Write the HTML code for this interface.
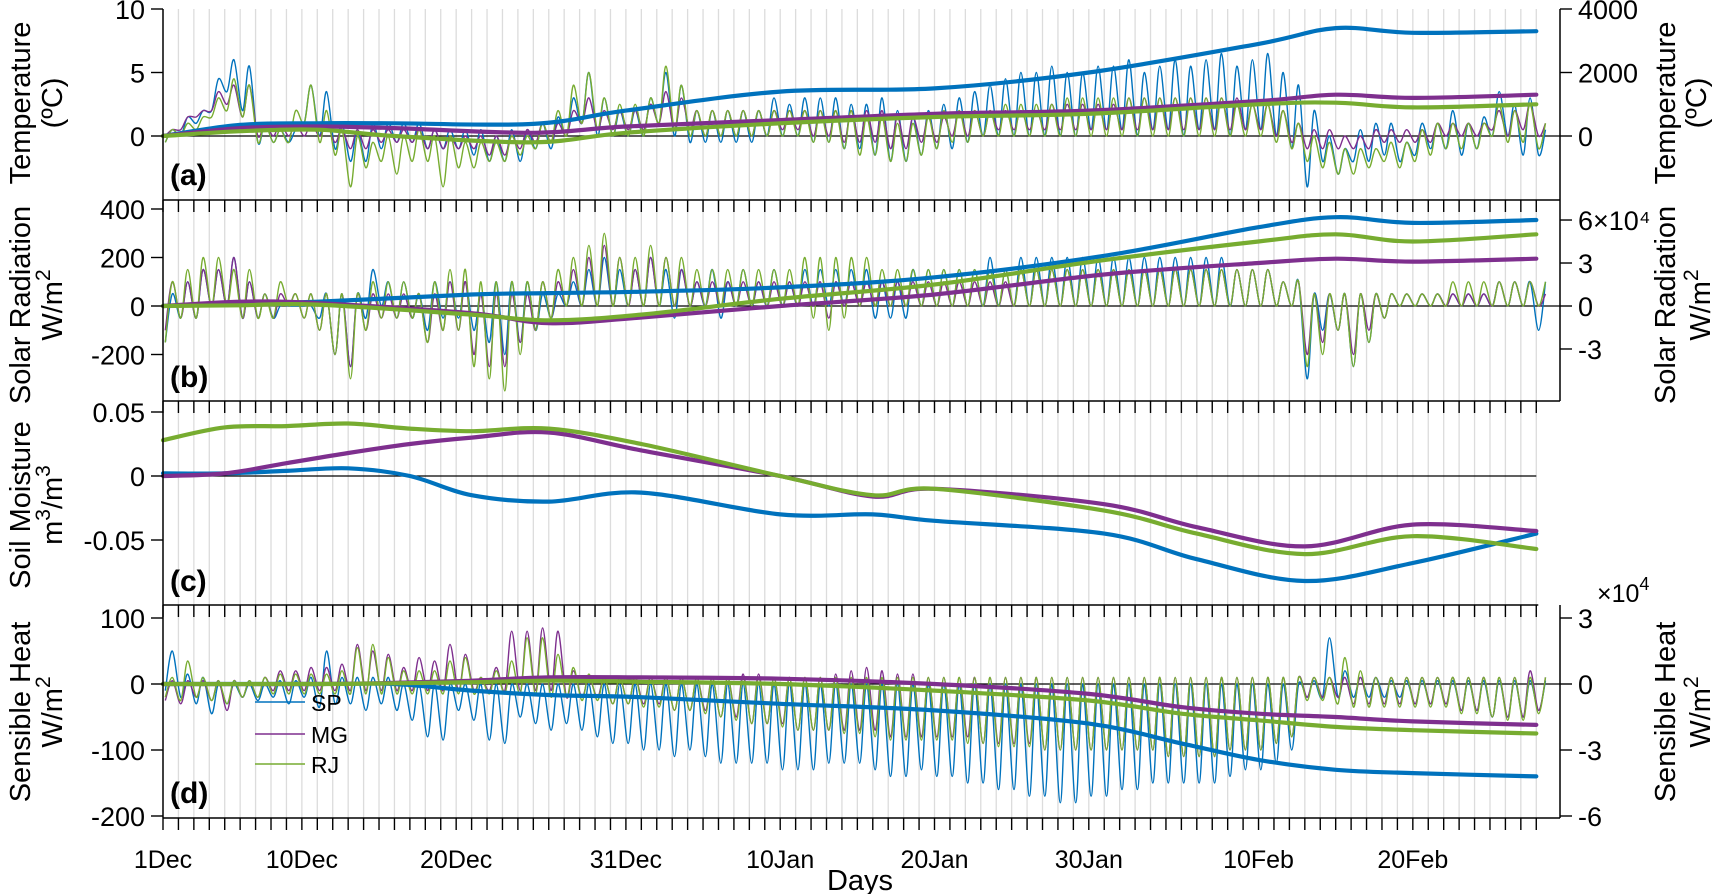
<!DOCTYPE html>
<html><head><meta charset="utf-8">
<style>
html,body{margin:0;padding:0;background:#fff;}
svg{display:block;font-family:"Liberation Sans",Arial,sans-serif;}
</style></head>
<body>
<svg id="chart" width="1725" height="894" viewBox="0 0 1725 894" xmlns="http://www.w3.org/2000/svg" style="position:absolute;left:0;top:0">
<g id="grid"></g>
<g id="series"></g>
<g id="axes"></g>
<g>
  <line x1="255" y1="702" x2="305" y2="702" stroke="#0072BD" stroke-width="1.5"/>
  <text x="311" y="711" font-size="23">SP</text>
  <line x1="255" y1="734" x2="305" y2="734" stroke="#7E2F8E" stroke-width="1.5"/>
  <text x="311" y="743" font-size="23">MG</text>
  <line x1="255" y1="764" x2="305" y2="764" stroke="#77AC30" stroke-width="1.5"/>
  <text x="311" y="773" font-size="23">RJ</text>
</g>
</svg>
<script>
// ---------- data ----------
const seriesNames = ["SP","MG","RJ"];
const seriesColors = ["#0072BD","#7E2F8E","#77AC30"];
const dateLabels = ["1Dec","10Dec","20Dec","31Dec","10Jan","20Jan","30Jan","10Feb","20Feb"];
const dateLabelDays = [0,9,19,30,40,50,60,71,81];
const numDays = 90;

// Panel a: temperature (daily high / low, degC)
const tempSPhi=[0.5,1.5,2,4.5,6,5.5,1,0.5,0.5,4, 3.5,1,0.5,1,1,1,1,0.5,0.5,0.5, 0.5,0,0.5,0.5,1,1.5,3,5,3,2,2, 3,5,4,2,2,2,2,2,3,2.5, 3,3,3,2.5,2.5,3,2,1.5,2,2.5, 3,3.5,4,4.5,5,5,5.5,5,5,5.5,5.5, 6,5,5.5,6,5.5,6,6.5,5.5,6,6.5, 5,4,2,0,-1,0.5,1,1,-0.5,1, 1,2,1,1.5,3.5,2.5,3,0.5];
const tempSPlo=[-0.5,0,1,2,3.5,2,-0.5,-0.5,-0.5,1, 0,-1,-2,-2,-1,-0.5,-0.5,-1,-1,-1, -1.5,-2,-2,-2,-1,-1,0,1,0,0,0, 0,1,0,-0.5,-0.5,-0.5,-0.5,-0.5,0,0, 0,-0.5,-0.5,-1,-1,-1.5,-2,-2,-1.5,-1, -1,-0.5,0,0,0,0,0,0,0,0.5,0.5, 0.5,0,0.5,0.5,0,0.5,0.5,0,0.5,0.5, 0,-1,-4,-2,-3,-2,-2,-1.5,-2,-1.5, -1,-1,-1.5,-1,0,0,-1.5,-1.5];
const tempMGhi=[0.5,1.5,2,3.5,4,4,1,1,1,1, 1,0.5,0.5,0.5,0.5,0.5,0.5,0.5,0,0, 0,0,0,0.5,1,1,2,3,2,2,2, 2.5,3.5,3,2,2,2,2,2,2,2, 2,2,2,2,2,2,1.5,1.5,1.5,1.5, 2,2,2,2,2,2,2.5,2.5,2.5,2.5,2.5, 3,3,3,3,3,3,3,3,2.5,2.5, 2,1,0.5,0.5,0,0,0.5,0.5,0.5,0.5, 1,1,1,1,2,2,2.5,1];
const tempMGlo=[0,0.5,1.5,2,2.5,1.5,0,0,0,0, 0,-0.5,-1,-1,-0.5,-0.5,-0.5,-1,-1,-1, -1,-1.5,-1.5,-1,-0.5,-0.5,0,1,0.5,0.5,0.5, 0.5,1,0.5,0.5,0,0,0,0,0,0.5, 0.5,0,0,-0.5,-0.5,-0.5,-1,-1,-0.5,-0.5, 0,0,0,0.5,0.5,0.5,0.5,0.5,0.5,0.5,0.5, 0.5,0.5,0.5,0.5,0.5,0.5,0.5,0.5,0.5,0.5, 0,-0.5,-1,-1,-1,-1,-1,-0.5,-0.5,-0.5, -0.5,0,0,0,0.5,0,0.5,0];
const tempRJhi=[0.5,1,1.5,3,4.5,4,1,0.5,2,4, 2,0.5,0,-0.5,0,0,0.5,0,0,-0.5, -0.5,-0.5,0,0,1,2,4,5,3,2.5,2.5, 3,5.5,4,2,2,2,2,2,2,2, 2,2,2,2,1.5,1.5,1,1,1.5,2, 2,2,2,2.5,2.5,2.5,2.5,3,3,3,3, 3,3,3,3,3,3,3,2.5,2.5,2.5, 2,1,0,-0.5,-1,-1,-1,-0.5,-0.5,0.5, 1,1,1,1,2.5,2,2.5,1];
const tempRJlo=[-0.5,0,0.5,1.5,2,1.5,-0.5,-0.5,-0.5,1, -0.5,-1.5,-4,-2.5,-2,-3,-2,-2,-4,-2.5, -2.5,-2,-2,-1.5,-1,-0.5,0,1,0.5,0,0, 0,1,0.5,0,0,0,0,0,0,0, 0,-0.5,-0.5,-1,-1.5,-1.5,-2,-2,-1.5,-1, -0.5,-0.5,0,0,0,0,0,0,0,0,0, 0,0,0,0,0,0,0,0,0,0, -0.5,-1,-2,-2.5,-3,-3,-2.5,-2,-2.5,-2, -1.5,-1,-1,-1,0,-0.5,-0.5,-1];
// cumulative temperature (right axis)
const cumTempDays=[0,5,10,15,24,30,40,50,60,71,76,81,89];
const cumTempSP=[0,350,400,400,380,800,1400,1500,2000,2900,3400,3250,3300];
const cumTempMG=[0,250,300,250,100,300,500,700,800,1100,1300,1200,1300];
const cumTempRJ=[0,150,200,0,-200,100,400,600,700,1000,1050,900,1000];

// Panel b: solar radiation (W/m2)
const solSPhi=[50,100,150,150,200,100,50,0,0,0, 50,50,50,150,100,100,50,100,100,100, 50,100,100,100,50,50,100,150,200,150,150, 200,150,150,100,150,100,150,100,150,100, 150,150,150,150,150,100,100,150,150,150, 150,150,200,150,200,200,200,200,200,200,200, 200,200,200,200,200,200,200,150,150,150, 100,100,50,50,50,50,50,50,50,50, 50,50,50,50,100,100,100,100];
const solSPlo=[-150,-50,-50,0,0,-50,-50,-50,0,0, -50,-200,-250,-50,0,-50,-50,-100,-50,-50, -100,-150,-200,-150,-100,-50,0,0,0,0,0, 0,0,-50,0,0,-50,0,0,0,0, 0,0,0,0,0,-50,-50,-50,0,0, 0,0,0,0,0,0,0,0,0,0,0, 0,0,0,0,0,0,0,0,0,0, 0,0,-300,-100,-100,-250,-150,-50,0,0, 0,0,0,0,0,0,0,-100];
const solMGhi=[100,100,150,150,200,100,50,50,50,50, 50,50,50,50,50,50,50,50,100,100, 50,50,50,50,100,100,150,200,250,200,150, 200,200,150,100,100,100,100,100,100,100, 100,100,100,100,100,100,100,100,100,100, 100,100,100,100,150,150,150,150,150,150,150, 150,150,150,150,150,150,150,150,150,150, 100,100,50,50,50,50,50,50,50,50, 50,50,50,50,100,100,100,50];
const solMGlo=[-100,-50,-50,0,0,-50,-50,-50,0,-50, -100,-200,-250,-100,-50,-50,-50,-150,-100,-100, -200,-250,-250,-150,-100,-50,0,0,0,0,0, 0,0,0,0,0,0,0,0,0,0, 0,0,-50,0,0,0,0,0,0,0, 0,0,0,0,0,0,0,0,0,0,0, 0,0,0,0,0,0,0,0,0,0, 0,0,-200,-150,-100,-200,-100,-50,0,0, 0,0,0,0,0,0,0,0];
const solRJhi=[100,150,200,200,150,150,50,100,50,50, 50,50,50,100,100,100,50,100,150,150, 100,100,100,100,100,150,200,250,300,200,200, 250,200,200,150,150,150,150,150,150,150, 200,200,200,200,200,150,150,150,150,150, 150,150,150,150,150,150,150,150,150,150,150, 150,150,150,150,150,150,150,150,150,150, 100,100,50,50,50,50,50,50,50,50, 50,100,100,100,100,100,100,100];
const solRJlo=[-150,-50,-50,0,0,-50,-50,-50,0,-50, -100,-200,-300,-100,-50,-50,-50,-150,-100,-100, -250,-300,-350,-200,-100,-50,0,0,0,0,0, 0,0,0,0,0,0,0,0,0,0, 0,-50,-100,-50,0,0,0,0,0,0, 0,0,0,0,0,0,0,0,0,0,0, 0,0,0,0,0,0,0,0,0,0, 0,0,-250,-200,-100,-250,-150,-50,0,0, 0,0,0,0,0,0,0,0];
const cumSolDays=[0,5,10,20,25,31,40,50,61,71,76,81,89];
const cumSolSP=[0,2000,3000,8000,9000,10000,13000,20000,35000,55000,62000,58000,60000];
const cumSolMG=[0,3000,2000,-5000,-12000,-8000,0,8000,22000,30000,33000,31000,33000];
const cumSolRJ=[0,500,1000,-6000,-10000,-6000,5000,15000,32000,45000,50000,45000,50000];

// Panel c: soil moisture (m3/m3)
const soilDays=[0,4,8,12,16,20,25,31,40,46,50,61,67,74,81,89];
const soilSP=[0.002,0.002,0.004,0.006,0,-0.015,-0.02,-0.013,-0.03,-0.03,-0.035,-0.045,-0.065,-0.082,-0.068,-0.045];
const soilMG=[0,0.002,0.01,0.018,0.025,0.03,0.034,0.02,0,-0.016,-0.01,-0.022,-0.04,-0.055,-0.038,-0.043];
const soilRJ=[0.028,0.038,0.039,0.041,0.037,0.035,0.037,0.025,0,-0.015,-0.01,-0.027,-0.045,-0.061,-0.047,-0.057];

// Panel d: sensible heat (W/m2)
const shSPhi=[50,15,10,0,0,0,0,5,5,10, 50,10,10,10,10,0,0,0,0,0, 0,0,0,0,0,0,0,0,0,0,0, 0,0,0,0,0,0,0,0,0,0, 0,0,0,0,0,0,0,0,0,0, 0,0,0,0,0,0,0,0,0,0,0, 0,0,0,0,0,0,0,0,0,0, 0,0,5,70,20,10,10,5,5,5, 5,5,5,5,5,5,5,5];
const shSPlo=[-10,-20,-30,-45,-30,-20,-25,-20,-30,-20, -35,-30,-30,-40,-30,-40,-55,-80,-85,-40, -55,-85,-90,-50,-60,-70,-60,-70,-80,-90,-90, -100,-100,-110,-100,-110,-120,-120,-120,-120,-130, -130,-130,-120,-120,-120,-130,-140,-140,-130,-140, -140,-150,-150,-160,-160,-170,-170,-180,-180,-170,-170, -160,-160,-150,-150,-150,-150,-150,-140,-130,-130, -120,-100,-20,-20,-20,-20,-20,-20,-20,-30, -30,-30,-40,-40,-50,-50,-50,-40];
const shMGhi=[5,5,5,5,5,5,10,20,20,25, 25,30,60,50,45,25,40,35,60,45, 10,25,80,80,85,80,20,10,10,10,10, 10,10,10,10,10,10,15,15,10,10, 10,10,15,20,25,20,15,15,10,10, 10,10,10,10,10,10,10,10,10,10,10, 10,10,10,10,10,10,10,10,10,10, 10,10,10,10,10,10,10,10,10,10, 10,10,10,10,10,10,20,10];
const shMGlo=[-25,-30,-20,-25,-40,-20,-20,-10,-10,-10, -10,-10,-10,-10,-10,-10,-10,-10,-10,-10, -10,-10,-10,-10,-10,-10,-20,-20,-20,-30,-30, -30,-30,-40,-40,-40,-50,-50,-60,-60,-60, -70,-70,-70,-70,-70,-70,-80,-80,-80,-80, -80,-80,-90,-90,-90,-90,-100,-100,-100,-100,-100, -100,-100,-100,-110,-110,-110,-110,-100,-100,-100, -90,-80,-20,-20,-20,-30,-30,-30,-30,-30, -30,-30,-40,-40,-50,-50,-50,-40];
const shRJhi=[10,35,10,5,5,5,10,15,15,15, 15,20,55,60,40,20,20,20,35,40, 10,20,35,70,70,45,25,15,10,10,10, 10,10,10,10,10,10,10,10,10,10, 10,10,10,10,10,10,10,10,10,10, 10,10,10,10,10,10,10,10,10,10,10, 10,10,10,10,10,10,10,10,10,10, 10,10,10,10,40,20,10,10,10,10, 10,10,10,10,10,10,10,10];
const shRJlo=[-20,-25,-20,-25,-30,-20,-20,-15,-15,-15, -15,-15,-15,-15,-15,-15,-15,-15,-15,-15, -15,-15,-15,-15,-15,-20,-20,-25,-25,-30,-30, -35,-35,-40,-40,-45,-50,-55,-60,-60,-65, -70,-70,-70,-75,-75,-80,-85,-85,-85,-85, -85,-90,-90,-95,-95,-95,-100,-100,-100,-100,-100, -100,-100,-100,-110,-110,-110,-110,-100,-100,-100, -90,-80,-25,-25,-30,-35,-35,-35,-35,-35, -35,-35,-45,-45,-50,-55,-55,-45];
const cumShDays=[0,10,15,20,25,31,40,50,60,66,71,76,81,89];
const cumShSP=[0,0,0,-3000,-5000,-6000,-9000,-12000,-18000,-27000,-34500,-39000,-40500,-42000];
const cumShMG=[0,0,500,1500,3000,3000,2400,0,-4500,-10500,-13500,-15000,-17000,-18600];
const cumShRJ=[0,0,300,800,1500,1000,0,-3000,-7500,-13500,-16500,-19500,-21000,-22500];

// ---------- scales ----------
const X0=163, XPD=15.43;
const xS=d=>X0+d*XPD;
const yA=v=>136-v*12.7, yAR=v=>yA(v/400);
const yB=v=>306-v*0.2425, yBR=v=>306-v*0.001433;
const yC=v=>476-v*1280;
const yD=v=>684-v*0.66, yDR=v=>yD(v/300);
const panels=[{top:9,bot:200,right:true},{top:200,bot:401,right:true},{top:401,bot:605,right:false},{top:605,bot:818,right:true}];
const XR=1560, XEND=xS(89);
const NS="http://www.w3.org/2000/svg";
function mk(tag,attrs,parent){const e=document.createElementNS(NS,tag);for(const k in attrs)e.setAttribute(k,attrs[k]);parent.appendChild(e);return e;}
function smooth(pts){let d="M"+pts[0][0].toFixed(1)+","+pts[0][1].toFixed(1);
 for(let i=0;i<pts.length-1;i++){const p0=pts[i-1]||pts[i],p1=pts[i],p2=pts[i+1],p3=pts[i+2]||p2;
  const c1=[p1[0]+(p2[0]-p0[0])/6,p1[1]+(p2[1]-p0[1])/6],c2=[p2[0]-(p3[0]-p1[0])/6,p2[1]-(p3[1]-p1[1])/6];
  d+="C"+c1[0].toFixed(1)+","+c1[1].toFixed(1)+" "+c2[0].toFixed(1)+","+c2[1].toFixed(1)+" "+p2[0].toFixed(1)+","+p2[1].toFixed(1);}
 return d;}
const grid=document.getElementById('grid'),ser=document.getElementById('series'),axes=document.getElementById('axes');

panels.forEach((p,pi)=>{for(let d=1;d<numDays;d++){const l=mk('line',{x1:xS(d),x2:xS(d),y1:p.top,y2:p.bot,stroke:'#dcdcdc','stroke-width':1.3},grid);
 
 }});

[[yA(0),XR],[yB(0),XR],[yC(0),XEND],[yD(0),XR]].forEach(z=>{const l=mk('line',{x1:X0,x2:z[1],y1:z[0],y2:z[0],stroke:'#000','stroke-width':1.2},ser);
 
 });

function thin(hi,lo,ys,color,name){const pts=[];for(let d=0;d<hi.length;d++){pts.push([xS(d+0.15),ys(lo[d])]);pts.push([xS(d+0.6),ys(hi[d])]);}
 const p=mk('path',{d:smooth(pts),fill:'none',stroke:color,'stroke-width':1.4},ser);
 
 }
function thick(days,vals,ys,color,name){const pts=days.map((d,i)=>[xS(d),ys(vals[i])]);
 const p=mk('path',{d:smooth(pts),fill:'none',stroke:color,'stroke-width':4.2,'stroke-linecap':'round'},ser);
 
 }
const C=seriesColors;
thin(tempSPhi,tempSPlo,yA,C[0],'temp-sp-line');thin(tempMGhi,tempMGlo,yA,C[1],'temp-mg-line');thin(tempRJhi,tempRJlo,yA,C[2],'temp-rj-line');
thick(cumTempDays,cumTempSP,yAR,C[0],'cum-temp-sp');thick(cumTempDays,cumTempMG,yAR,C[1],'cum-temp-mg');thick(cumTempDays,cumTempRJ,yAR,C[2],'cum-temp-rj');
thin(solSPhi,solSPlo,yB,C[0],'solar-sp-line');thin(solMGhi,solMGlo,yB,C[1],'solar-mg-line');thin(solRJhi,solRJlo,yB,C[2],'solar-rj-line');
thick(cumSolDays,cumSolSP,yBR,C[0],'cum-solar-sp');thick(cumSolDays,cumSolMG,yBR,C[1],'cum-solar-mg');thick(cumSolDays,cumSolRJ,yBR,C[2],'cum-solar-rj');
thick(soilDays,soilSP,yC,C[0],'soil-sp');thick(soilDays,soilMG,yC,C[1],'soil-mg');thick(soilDays,soilRJ,yC,C[2],'soil-rj');
thin(shSPhi,shSPlo,yD,C[0],'heat-sp-line');thin(shMGhi,shMGlo,yD,C[1],'heat-mg-line');thin(shRJhi,shRJlo,yD,C[2],'heat-rj-line');
thick(cumShDays,cumShSP,yDR,C[0],'cum-heat-sp');thick(cumShDays,cumShMG,yDR,C[1],'cum-heat-mg');thick(cumShDays,cumShRJ,yDR,C[2],'cum-heat-rj');

panels.forEach((p,pi)=>{
 const l=mk('line',{x1:X0,x2:X0,y1:p.top,y2:p.bot,stroke:'#000','stroke-width':1.5},axes);
 
 
 const b=mk('line',{x1:X0,x2:p.right?XR:XEND+2,y1:p.bot,y2:p.bot,stroke:'#000','stroke-width':1.5},axes);
 
 
 if(p.right){const r=mk('line',{x1:XR,x2:XR,y1:p.top,y2:p.bot,stroke:'#000','stroke-width':1.5},axes);
  
  }
 for(let d=0;d<numDays;d++){const t=mk('line',{x1:xS(d),x2:xS(d),y1:p.bot,y2:p.bot+12,stroke:'#000','stroke-width':1.4},axes);
  
  }
});
function yticks(vals,labels,ys,side){vals.forEach((v,i)=>{const y=ys(v);
 const tk=mk('line',{x1:side<0?X0-12:XR,x2:side<0?X0:XR+12,y1:y,y2:y,stroke:'#000','stroke-width':1.4},axes);
 
 
 const t=mk('text',{x:side<0?X0-18:XR+18,y:y+10,'font-size':27,'text-anchor':side<0?'end':'start'},axes);
 t.textContent=labels[i];
 
 });}
yticks([10,5,0],["10","5","0"],yA,-1);
yticks([4000,2000,0],["4000","2000","0"],yAR,1);
yticks([400,200,0,-200],["400","200","0","-200"],yB,-1);
yticks([60000,30000,0,-30000],["6×10⁴","3","0","-3"],yBR,1);
yticks([0.05,0,-0.05],["0.05","0","-0.05"],yC,-1);
yticks([100,0,-100,-200],["100","0","-100","-200"],yD,-1);
yticks([30000,0,-30000,-60000],["3","0","-3","-6"],yDR,1);
dateLabels.forEach((s,i)=>{const t=mk('text',{x:xS(dateLabelDays[i]),y:868,'font-size':25,'text-anchor':'middle'},axes);
 t.textContent=s;
 
 });
</script>
<svg style="position:absolute;left:0;top:0" width="1725" height="894">
<g font-family="Liberation Sans, Arial, sans-serif" font-size="29" text-anchor="middle">
 <text transform="translate(30,103) rotate(-90)">Temperature</text>
 <text transform="translate(62,103) rotate(-90)">(ºC)</text>
 <text transform="translate(30,305) rotate(-90)">Solar Radiation</text>
 <text transform="translate(62,305) rotate(-90)">W/m<tspan dy="-12" font-size="21">2</tspan></text>
 <text transform="translate(30,505) rotate(-90)">Soil Moisture</text>
 <text transform="translate(62,505) rotate(-90)">m<tspan dy="-12" font-size="21">3</tspan><tspan dy="12">/m</tspan><tspan dy="-12" font-size="21">3</tspan></text>
 <text transform="translate(30,712) rotate(-90)">Sensible Heat</text>
 <text transform="translate(62,712) rotate(-90)">W/m<tspan dy="-12" font-size="21">2</tspan></text>
 <text transform="translate(1675,103) rotate(-90)">Temperature</text>
 <text transform="translate(1706,103) rotate(-90)">(ºC)</text>
 <text transform="translate(1675,305) rotate(-90)">Solar Radiation</text>
 <text transform="translate(1710,305) rotate(-90)">W/m<tspan dy="-12" font-size="21">2</tspan></text>
 <text transform="translate(1675,712) rotate(-90)">Sensible Heat</text>
 <text transform="translate(1710,712) rotate(-90)">W/m<tspan dy="-12" font-size="21">2</tspan></text>
 <text x="860" y="890">Days</text>
</g>
<text x="1597" y="602" font-family="Liberation Sans, Arial, sans-serif" font-size="25">×10<tspan dy="-12" font-size="18">4</tspan></text>
<g font-family="Liberation Sans, Arial, sans-serif" font-size="30" font-weight="bold">
 <text x="170" y="185">(a)</text>
 <text x="170" y="387">(b)</text>
 <text x="170" y="591">(c)</text>
 <text x="170" y="803">(d)</text>
</g>
</svg>
</body></html>
